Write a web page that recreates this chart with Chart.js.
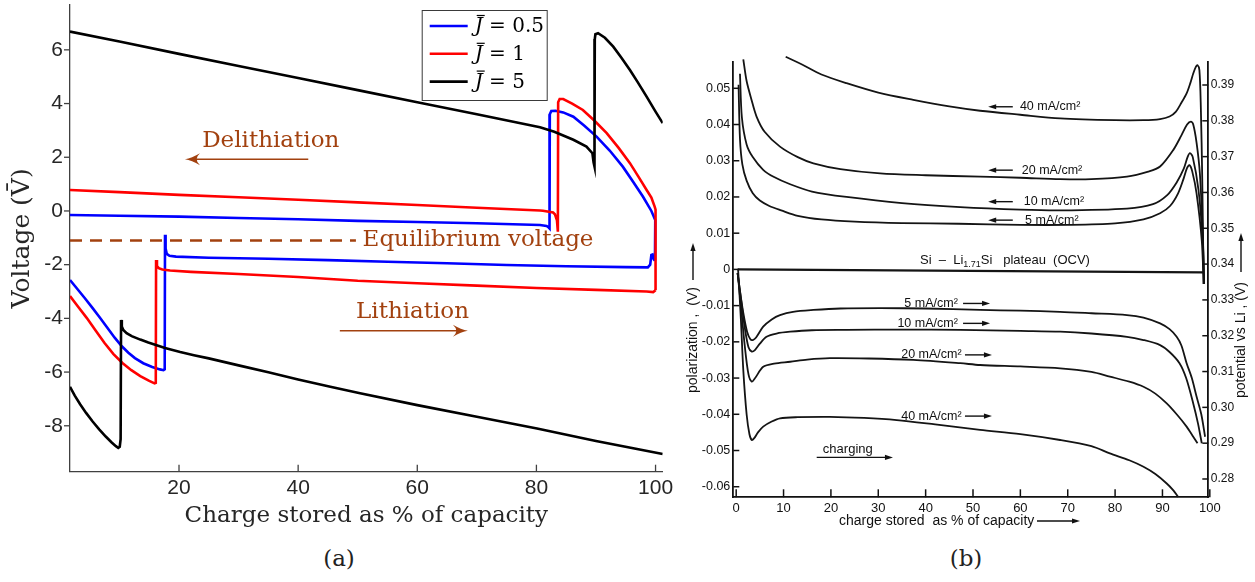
<!DOCTYPE html>
<html><head><meta charset="utf-8">
<script src="https://cdn.jsdelivr.net/npm/chart.js@4"></script>
<style>
html,body{margin:0;padding:0;background:#fff;width:1255px;height:582px;overflow:hidden}
#wa{position:absolute;left:0;top:0;width:680px;height:540px}
#wb{position:absolute;left:680px;top:0;width:575px;height:540px}
.cap{position:absolute;top:545px;font-family:"DejaVu Serif",serif;font-size:23px;color:#222;transform:translateX(-50%)}
</style></head><body>
<div id="wa"><canvas id="ca" width="680" height="540"></canvas></div>
<div id="wb"><canvas id="cb" width="575" height="540"></canvas></div>
<div class="cap" style="left:339px">(a)</div>
<div class="cap" style="left:966px">(b)</div>
<script>
// ---------------- Panel (a) data ----------------
const aXTicks = [20, 40, 60, 80, 100];
const aYTicks = [-8, -6, -4, -2, 0, 2, 4, 6];
const currents = ['0.5', '1', '5'];
const equilibriumVoltage = -1.1;
const equilibriumSpan = [1.7, 49.7];

const blueLith = [[1.7,-2.57],[2.8,-2.87],[4.2,-3.25],[5.5,-3.62],[6.7,-3.97],[8.0,-4.36],[9.2,-4.72],[10.4,-5.04],[11.5,-5.28],[12.6,-5.48],[14,-5.67],[15.5,-5.81],[16.8,-5.9],[17.4,-5.93],[17.6,-5.9],[17.65,-0.89],[17.75,-1.4],[17.95,-1.6],[18.4,-1.67],[19.5,-1.7],[25,-1.74],[35,-1.78],[45,-1.83],[55,-1.89],[65,-1.95],[75,-2.01],[85,-2.06],[95,-2.09],[98.7,-2.1],[99.1,-2.0],[99.3,-1.64],[99.5,-1.62],[99.7,-1.8],[99.9,-1.85]];
const blueDelith = [[99.9,-1.85],[99.95,-0.34],[99.3,0.0],[97.9,0.53],[96.2,1.1],[94.5,1.65],[92.3,2.25],[90.1,2.77],[88,3.18],[86.2,3.51],[84.5,3.67],[83.2,3.73],[82.5,3.72],[82.25,3.6],[82.2,-0.65],[82.0,-0.6],[81.7,-0.56],[80.6,-0.52],[70,-0.46],[60,-0.41],[50,-0.37],[40,-0.31],[30,-0.26],[20,-0.21],[10,-0.18],[1.7,-0.15]];
const redLith = [[1.7,-3.17],[3,-3.55],[4.5,-3.98],[6,-4.45],[7.5,-4.92],[9,-5.33],[10.5,-5.66],[12,-5.93],[13.5,-6.15],[15,-6.33],[15.9,-6.42],[16.1,-6.4],[16.15,-1.83],[16.3,-2.05],[16.6,-2.13],[17.2,-2.18],[18.5,-2.22],[22,-2.27],[30,-2.35],[40,-2.46],[50,-2.6],[60,-2.69],[70,-2.78],[80,-2.87],[90,-2.94],[98.5,-3.0],[99.6,-3.02],[100,-2.95]];
const redDelith = [[100,-2.95],[100,0.05],[99.85,0.16],[99.3,0.5],[98.5,0.78],[97.2,1.25],[95.7,1.78],[93.8,2.35],[91.8,2.9],[89.8,3.35],[87.8,3.76],[86,4.0],[84.5,4.17],[83.9,4.17],[83.65,4.05],[83.6,-0.77],[83.45,-0.35],[83.1,-0.12],[82.8,-0.06],[81.1,0.01],[80.6,0.02],[70,0.12],[60,0.22],[50,0.32],[40,0.42],[30,0.51],[20,0.6],[10,0.7],[1.7,0.78]];
const blackLith = [[1.7,-6.55],[2.5,-6.88],[3.4,-7.2],[4.4,-7.52],[5.5,-7.84],[6.6,-8.13],[7.7,-8.4],[8.7,-8.62],[9.4,-8.76],[9.8,-8.82],[10.05,-8.78],[10.2,-8.5],[10.27,-4.06],[10.4,-4.3],[10.65,-4.43],[11.2,-4.55],[12.06,-4.66],[13.5,-4.79],[14.85,-4.9],[17.65,-5.1],[20.2,-5.25],[22.5,-5.37],[25,-5.49],[30,-5.75],[35,-6.01],[40,-6.28],[45.4,-6.55],[50.4,-6.79],[60,-7.23],[70,-7.66],[80.1,-8.1],[90,-8.57],[101.2,-9.05]];
const blackDelith = [[101.2,3.27],[100,3.7],[98.5,4.26],[97,4.8],[95.7,5.25],[94.3,5.7],[92.9,6.12],[91.5,6.45],[90.35,6.62],[89.9,6.58],[89.8,6.4],[89.75,1.65],[89.6,1.8],[89.4,2.15],[88.4,2.4],[86.2,2.65],[83,2.95],[80.6,3.12],[70,3.6],[60,4.05],[50,4.5],[40,4.95],[30,5.4],[20,5.85],[10,6.31],[1.7,6.68]];

// ---------------- Panel (b) data ----------------
const bXTicks = [0,10,20,30,40,50,60,70,80,90,100];
const bYTicks = [-0.06,-0.05,-0.04,-0.03,-0.02,-0.01,0,0.01,0.02,0.03,0.04,0.05];
const bYTickLabels = ['-0.06','-0.05','-0.04','-0.03','-0.02','-0.01','0','0.01','0.02','0.03','0.04','0.05'];
const bY2Ticks = [0.28,0.29,0.30,0.31,0.32,0.33,0.34,0.35,0.36,0.37,0.38,0.39];
const bY2TickLabels = ['0.28','0.29','0.30','0.31','0.32','0.33','0.34','0.35','0.36','0.37','0.38','0.39'];
const densityLabels = ['5 mA/cm²','10 mA/cm²','20 mA/cm²','40 mA/cm²'];

const delith5 = [[0.5,0.051],[0.8,0.036],[1.3,0.029],[2.2,0.0245],[3.5,0.021],[5,0.019],[7,0.0175],[9.5,0.0163],[13,0.0148],[18,0.0138],[25,0.0132],[35,0.0128],[47,0.0126],[60,0.0123],[70,0.0123],[80,0.0127],[86,0.0138],[89.5,0.0155],[91.6,0.0175],[93.3,0.021],[94.5,0.0252],[95.2,0.028],[95.7,0.0288],[96.3,0.027],[97.2,0.021],[98.3,0.008],[98.7,-0.004]];
const delith10 = [[0.8,0.054],[1.2,0.042],[2.2,0.0345],[3.5,0.031],[5.7,0.0275],[8,0.0255],[11.4,0.0235],[16,0.0215],[23.3,0.02],[35,0.0183],[47.3,0.0172],[60,0.0165],[68.4,0.0163],[82.5,0.0168],[88,0.018],[91,0.0205],[93,0.024],[94.5,0.0278],[95.3,0.031],[95.8,0.0321],[96.4,0.031],[97.6,0.022],[98.5,0.008],[98.8,-0.004]];
const delith20 = [[1.5,0.058],[2.2,0.052],[3.2,0.047],[4.3,0.0422],[6,0.038],[9.25,0.0339],[13,0.031],[16.3,0.0293],[22,0.0277],[30.4,0.0265],[40,0.026],[51.5,0.0256],[60,0.0253],[68.4,0.0249],[75,0.0249],[82.5,0.0256],[87,0.027],[89.5,0.0284],[92.3,0.033],[94,0.037],[95.2,0.04],[96.0,0.0408],[96.5,0.04],[97.2,0.035],[97.9,0.0265],[98.5,0.01],[98.8,-0.004]];
const delith40 = [[10.45,0.0587],[14,0.0565],[18,0.0538],[23.3,0.0514],[30,0.0488],[37.4,0.0468],[45,0.045],[51.5,0.0438],[60,0.0427],[68.4,0.0417],[80,0.0412],[86,0.0412],[89.5,0.0415],[91.5,0.0422],[92.8,0.0435],[94,0.046],[95.1,0.0486],[95.9,0.0515],[96.5,0.0541],[97.0,0.0558],[97.4,0.0564],[97.8,0.055],[98.1,0.045],[98.4,0.025],[98.7,-0.004]];
const lith5 = [[0.3,-0.001],[0.8,-0.006],[1.5,-0.012],[2.3,-0.0172],[3.0,-0.0193],[3.5,-0.0195],[4.2,-0.0188],[5.7,-0.0158],[7.5,-0.0138],[9.25,-0.0126],[12,-0.0117],[16.3,-0.0112],[22,-0.0108],[30.4,-0.0107],[40,-0.0108],[51.5,-0.0112],[60,-0.0114],[68.4,-0.0117],[75,-0.0121],[82.5,-0.0126],[86,-0.0133],[89.5,-0.0149],[91.5,-0.0165],[93,-0.0186],[94,-0.021],[95.1,-0.0259],[96.2,-0.03],[97.2,-0.0351],[98.2,-0.04],[99.0,-0.0462]];
const lith10 = [[0.3,-0.001],[1.0,-0.008],[1.8,-0.016],[2.6,-0.0215],[3.3,-0.0227],[4.0,-0.0222],[5.0,-0.0205],[6.4,-0.0186],[8.5,-0.0177],[11.4,-0.0172],[16,-0.0168],[23.3,-0.0167],[35,-0.0166],[47.3,-0.0167],[60,-0.017],[68.4,-0.0172],[75,-0.0177],[82.5,-0.0186],[86,-0.0195],[89.5,-0.0209],[91.5,-0.0228],[93.6,-0.0259],[95,-0.03],[96.5,-0.037],[97.5,-0.0425],[98.3,-0.048]];
const lith20 = [[0.3,-0.001],[1.0,-0.01],[1.8,-0.021],[2.6,-0.029],[3.3,-0.031],[4.0,-0.03],[5.7,-0.0269],[8,-0.026],[11.4,-0.0255],[15,-0.0249],[19.8,-0.0245],[28,-0.0246],[37.4,-0.025],[47.3,-0.0259],[51.5,-0.0264],[60,-0.0268],[68.4,-0.0273],[75,-0.0283],[78.9,-0.0296],[83,-0.031],[86,-0.0324],[88.5,-0.0343],[90.9,-0.037],[93,-0.04],[95.1,-0.0434],[96.5,-0.0462],[97.4,-0.048]];
const lith40 = [[0.4,0.0],[1.0,-0.014],[1.5,-0.0278],[2.2,-0.04],[2.8,-0.0455],[3.3,-0.0471],[3.8,-0.0466],[4.6,-0.045],[5.7,-0.0434],[7.5,-0.042],[9.25,-0.0411],[13,-0.0408],[19.8,-0.0407],[27,-0.041],[33.9,-0.0416],[42,-0.0428],[51.5,-0.0443],[60,-0.0455],[68.4,-0.0471],[75,-0.0488],[78.9,-0.0508],[83,-0.0527],[86,-0.0545],[88.5,-0.0565],[90.9,-0.0591],[92.3,-0.061],[93.3,-0.0628]];
const ocvPlateau = [[0.3,0.0],[98.6,-0.0008]];

// ---------------- helpers ----------------
const pts = a => a.map(p => ({x: p[0], y: p[1]}));
const SERIF = '"DejaVu Serif", serif';
const SANS = '"Liberation Sans", Arial, sans-serif';
const BROWN = '#a2410f';
const noPad = s => { s.paddingTop = 0; s.paddingBottom = 0; s.paddingLeft = 0; s.paddingRight = 0; };

function head(ctx, x, y, d, L, w, curved) {
  ctx.beginPath();
  ctx.moveTo(x, y);
  if (curved) {
    ctx.quadraticCurveTo(x - d*L*0.45, y - w*0.2, x - d*L, y - w);
    ctx.quadraticCurveTo(x - d*L*0.55, y, x - d*L, y + w);
    ctx.quadraticCurveTo(x - d*L*0.45, y + w*0.2, x, y);
  } else {
    ctx.lineTo(x - d*L, y - w);
    ctx.lineTo(x - d*L, y + w);
    ctx.closePath();
  }
  ctx.fill();
}

const tickMarks = {
  id: 'tickMarks',
  afterDraw(chart, args, o) {
    const ctx = chart.ctx;
    ctx.save();
    ctx.lineWidth = o.width; ctx.strokeStyle = o.color;
    o.specs.forEach(sp => {
      const s = chart.scales[sp.id];
      s.ticks.forEach(t => {
        const p = s.getPixelForValue(t.value);
        ctx.beginPath();
        if (s.isHorizontal()) { ctx.moveTo(p, s.top); ctx.lineTo(p, s.top - sp.len); }
        else { const x0 = s.position === 'left' ? s.right : s.left; ctx.moveTo(x0, p); ctx.lineTo(x0 + sp.dir*sp.len, p); }
        ctx.stroke();
      });
    });
    ctx.restore();
  }
};

const annotate = {
  id: 'annotate',
  afterDatasetsDraw(chart, args, o) {
    const ctx = chart.ctx, xs = chart.scales.x, ys = chart.scales.y;
    const X = v => xs.getPixelForValue(v), Y = v => ys.getPixelForValue(v);
    ctx.save();
    o.texts.forEach(t => {
      ctx.font = t.font; ctx.fillStyle = t.color; ctx.textAlign = t.align; ctx.textBaseline = 'middle';
      ctx.fillText(t.text, X(t.x), Y(t.y));
    });
    o.arrows.forEach(a => {
      const x1 = X(a.from), x2 = X(a.to), y = Y(a.y), d = Math.sign(x2 - x1);
      ctx.strokeStyle = a.color; ctx.fillStyle = a.color; ctx.lineWidth = a.width;
      ctx.beginPath(); ctx.moveTo(x1, y); ctx.lineTo(x2 - d*a.L*0.5, y); ctx.stroke();
      head(ctx, x2, y, d, a.L, a.w, a.curved);
    });
    ctx.restore();
  }
};

const jLegend = {
  id: 'jLegend',
  afterDraw(chart, args, o) {
    const ctx = chart.ctx, ca = chart.chartArea;
    const bx = ca.left + o.dx, by = ca.top + o.dy;
    ctx.save();
    ctx.fillStyle = '#fff'; ctx.fillRect(bx, by, o.w, o.h);
    ctx.strokeStyle = '#3a3a3a'; ctx.lineWidth = 1; ctx.strokeRect(bx + 0.5, by + 0.5, o.w, o.h);
    const items = chart.data.datasets.filter(d => d.legendText !== undefined).sort((a, b) => a.legendIndex - b.legendIndex);
    items.forEach((d, i) => {
      const cy = by + o.first + i*o.step;
      ctx.strokeStyle = d.borderColor; ctx.lineWidth = 2.6;
      ctx.beginPath(); ctx.moveTo(bx + 8, cy); ctx.lineTo(bx + 46, cy); ctx.stroke();
      const tx = bx + 53;
      ctx.fillStyle = '#000'; ctx.textBaseline = 'middle'; ctx.textAlign = 'left';
      ctx.font = 'italic 20px ' + SERIF;
      ctx.fillText('J', tx, cy + 1);
      const jw = ctx.measureText('J').width;
      ctx.lineWidth = 1.2; ctx.strokeStyle = '#000';
      ctx.beginPath(); ctx.moveTo(tx + 2, cy - 10.5); ctx.lineTo(tx + jw + 2, cy - 10.5); ctx.stroke();
      ctx.font = '20px ' + SERIF;
      ctx.fillText(' = ' + d.legendText, tx + jw, cy + 1);
    });
    ctx.restore();
  }
};

// ---------------- Chart (a) ----------------
const lineDs = (data, color, order, extra) => Object.assign({
  data: pts(data), borderColor: color, backgroundColor: color, showLine: true,
  borderWidth: 2.6, pointRadius: 0, pointHoverRadius: 0, tension: 0, order: order
}, extra || {});

new Chart(document.getElementById('ca'), {
  type: 'scatter',
  data: { datasets: [
    lineDs(blackDelith, '#000000', 1, {legendText: currents[2], legendIndex: 2}),
    lineDs(blackLith, '#000000', 1),
    lineDs(redLith, '#ff0000', 2),
    lineDs(redDelith, '#ff0000', 2, {legendText: currents[1], legendIndex: 1}),
    lineDs(blueLith, '#0000ff', 3),
    lineDs(blueDelith, '#0000ff', 3, {legendText: currents[0], legendIndex: 0}),
    lineDs([[equilibriumSpan[0], equilibriumVoltage], [equilibriumSpan[1], equilibriumVoltage]], BROWN, 4, {borderDash: [12, 8], borderWidth: 2.4})
  ]},
  options: {
    responsive: false, animation: false, devicePixelRatio: 1, events: [],
    layout: { padding: { top: 5, right: 17.3, left: 0, bottom: 0 } },
    plugins: {
      legend: { display: false }, tooltip: { enabled: false },
      tickMarks: { width: 1.3, color: '#404040', specs: [{id: 'x', len: 7, dir: -1}, {id: 'y', len: 6, dir: -1}] },
      annotate: {
        texts: [
          {text: 'Delithiation', x: 35.4, y: 2.6, font: '23px ' + SERIF, color: BROWN, align: 'center'},
          {text: 'Equilibrium voltage', x: 70.2, y: -1.08, font: '23px ' + SERIF, color: BROWN, align: 'center'},
          {text: 'Lithiation', x: 59.2, y: -3.75, font: '23px ' + SERIF, color: BROWN, align: 'center'}
        ],
        arrows: [
          {from: 41.7, to: 21.0, y: 1.93, color: BROWN, width: 1.5, L: 15, w: 6, curved: true},
          {from: 47.0, to: 68.5, y: -4.46, color: BROWN, width: 1.5, L: 15, w: 6, curved: true}
        ]
      },
      jLegend: { dx: 351.7, dy: 5, w: 125, h: 90, first: 16, step: 27.8 }
    },
    scales: {
      x: {
        type: 'linear', position: 'bottom', min: 1.7, max: 101.2,
        grid: { display: false, drawTicks: false }, border: { display: true, color: '#404040', width: 1.3 },
        afterBuildTicks: s => { s.ticks = aXTicks.map(v => ({value: v})); },
        afterFit: s => { s.height = 68.3; noPad(s); },
        ticks: { autoSkip: false, maxRotation: 0, minRotation: 0, padding: 4, color: '#262626', font: {family: SANS, size: 21}, callback: (v, i) => String(aXTicks[i]) },
        title: { display: true, text: 'Charge stored as % of capacity', color: '#262626', font: {family: SERIF, size: 23}, padding: {top: 0, bottom: 10} }
      },
      y: {
        type: 'linear', position: 'left', min: -9.71, max: 7.67,
        grid: { display: false, drawTicks: false }, border: { display: true, color: '#404040', width: 1.3 },
        afterBuildTicks: s => { s.ticks = aYTicks.map(v => ({value: v})); },
        afterFit: s => { s.width = 70; noPad(s); },
        ticks: { autoSkip: false, padding: 7, color: '#262626', font: {family: SANS, size: 21}, callback: (v, i) => String(aYTicks[i]) },
        title: { display: true, text: 'Voltage (V\u0304)', color: '#262626', font: {family: SERIF, size: 25}, padding: {top: 7, bottom: 0} }
      }
    }
  },
  plugins: [tickMarks, annotate, jLegend]
});

// ---------------- Chart (b) ----------------
const bLine = (data, extra) => Object.assign({
  data: pts(data), borderColor: '#141414', showLine: true, borderWidth: 1.8,
  pointRadius: 0, pointHoverRadius: 0, tension: 0.3, clip: false
}, extra || {});

const bNotes = {
  id: 'bNotes',
  afterDatasetsDraw(chart, args, o) {
    const ctx = chart.ctx, xs = chart.scales.x, ys = chart.scales.y;
    const X = v => xs.getPixelForValue(v), Y = v => ys.getPixelForValue(v);
    ctx.save();
    ctx.fillStyle = '#111'; ctx.strokeStyle = '#111'; ctx.textBaseline = 'middle';
    const arrow = (x1, x2, y) => {
      const d = Math.sign(x2 - x1);
      ctx.lineWidth = 1.4; ctx.beginPath(); ctx.moveTo(x1, y); ctx.lineTo(x2 - d*4, y); ctx.stroke();
      head(ctx, x2, y, d, 8, 2.6, false);
    };
    ctx.font = '12.5px ' + SANS;
    o.delith.forEach((p, i) => {
      ctx.textAlign = 'left';
      ctx.fillText(densityLabels[i], X(p.tx), Y(p.y));
      arrow(X(p.a1), X(p.a2), Y(p.y));
    });
    o.lith.forEach((p, i) => {
      ctx.textAlign = 'right';
      ctx.fillText(densityLabels[i], X(p.tx), Y(p.y));
      arrow(X(p.a1), X(p.a2), Y(p.y));
    });
    ctx.textAlign = 'left'; ctx.font = '13px ' + SANS;
    ctx.fillText('charging', X(o.charging.tx), Y(o.charging.ty));
    arrow(X(o.charging.a1), X(o.charging.a2), Y(o.charging.ay));
    let x = X(o.ocv.tx); const y = Y(o.ocv.ty);
    ctx.font = '13px ' + SANS;
    ctx.fillText('Si  \u2013  Li', x, y); x += ctx.measureText('Si  \u2013  Li').width;
    ctx.font = '9px ' + SANS;
    ctx.fillText('1.71', x, y + 4); x += ctx.measureText('1.71').width;
    ctx.font = '13px ' + SANS;
    ctx.fillText('Si   plateau  (OCV)', x, y);
    ctx.restore();
  },
  afterDraw(chart, args, o) {
    const ctx = chart.ctx;
    ctx.save();
    ctx.fillStyle = '#111'; ctx.strokeStyle = '#111'; ctx.textBaseline = 'middle'; ctx.textAlign = 'left';
    ctx.font = '14px ' + SANS;
    const arrowH = (x1, x2, y) => {
      const d = Math.sign(x2 - x1);
      ctx.lineWidth = 1.4; ctx.beginPath(); ctx.moveTo(x1, y); ctx.lineTo(x2 - d*4, y); ctx.stroke();
      head(ctx, x2, y, d, 8, 2.6, false);
    };
    ctx.fillText(o.xTitle.text, o.xTitle.x, o.xTitle.y);
    arrowH(o.xTitle.a1, o.xTitle.a2, o.xTitle.y);
    [o.leftTitle, o.rightTitle].forEach(t => {
      ctx.save(); ctx.translate(t.x, 0); ctx.rotate(-Math.PI/2);
      ctx.fillText(t.text, -t.start, 0);
      arrowH(-t.a1, -t.a2, 0);
      ctx.restore();
    });
    ctx.restore();
  }
};

new Chart(document.getElementById('cb'), {
  type: 'scatter',
  data: { datasets: [
    bLine(ocvPlateau, {borderWidth: 2.2, tension: 0}),
    bLine(delith5), bLine(delith10), bLine(delith20), bLine(delith40),
    bLine(lith5), bLine(lith10), bLine(lith20), bLine(lith40)
  ]},
  options: {
    responsive: false, animation: false, devicePixelRatio: 1, events: [],
    layout: { padding: { top: 62, right: 0, left: 0, bottom: 0 } },
    plugins: {
      legend: { display: false }, tooltip: { enabled: false },
      tickMarks: { width: 1.5, color: '#111', specs: [{id: 'x', len: 8, dir: -1}, {id: 'y', len: 6, dir: 1}, {id: 'y2', len: 6, dir: -1}] },
      bNotes: {
        delith: [
          {y: 0.0136, tx: 61.0, a1: 58.4, a2: 53.2},
          {y: 0.0187, tx: 60.7, a1: 58.4, a2: 53.2},
          {y: 0.0274, tx: 60.3, a1: 58.4, a2: 53.2},
          {y: 0.0449, tx: 59.9, a1: 58.4, a2: 53.2}
        ],
        lith: [
          {y: -0.0094, tx: 46.8, a1: 47.9, a2: 53.6},
          {y: -0.0149, tx: 46.8, a1: 47.9, a2: 53.6},
          {y: -0.0236, tx: 47.6, a1: 48.3, a2: 54.0},
          {y: -0.0405, tx: 47.6, a1: 48.3, a2: 54.0}
        ],
        charging: {tx: 18.3, ty: -0.0497, a1: 17.0, a2: 33.1, ay: -0.0519},
        ocv: {tx: 38.8, ty: 0.0024},
        xTitle: {text: 'charge stored  as % of capacity', x: 159, y: 521, a1: 357, a2: 400},
        leftTitle: {text: 'polarization ,  (V)', x: 13, start: 393, a1: 280, a2: 243},
        rightTitle: {text: 'potential vs Li , (V)', x: 561, start: 398, a1: 272, a2: 233}
      }
    },
    scales: {
      x: {
        type: 'linear', position: 'bottom', min: -0.61, max: 99.68,
        grid: { display: false, drawTicks: false }, border: { display: true, color: '#111', width: 1.8 },
        afterBuildTicks: s => { s.ticks = bXTicks.map(v => ({value: v})); },
        afterFit: s => { s.height = 42.7; noPad(s); },
        ticks: { autoSkip: false, maxRotation: 0, minRotation: 0, padding: 3, color: '#111', font: {family: SANS, size: 13}, callback: (v, i) => String(bXTicks[i]) }
      },
      y: {
        type: 'linear', position: 'left', min: -0.06292, max: 0.05726,
        grid: { display: false, drawTicks: false }, border: { display: true, color: '#111', width: 1.8 },
        afterBuildTicks: s => { s.ticks = bYTicks.map(v => ({value: v})); },
        afterFit: s => { s.width = 53.3; noPad(s); },
        ticks: { autoSkip: false, padding: 3, color: '#111', font: {family: SANS, size: 12.5}, callback: (v, i) => bYTickLabels[i] }
      },
      y2: {
        type: 'linear', position: 'right', min: 0.27489, max: 0.39642,
        grid: { display: false, drawTicks: false }, border: { display: true, color: '#111', width: 1.8 },
        afterBuildTicks: s => { s.ticks = bY2Ticks.map(v => ({value: v})); },
        afterFit: s => { s.width = 46.7; noPad(s); },
        ticks: { autoSkip: false, padding: 2.5, color: '#111', font: {family: SANS, size: 12}, callback: (v, i) => bY2TickLabels[i] }
      }
    }
  },
  plugins: [tickMarks, bNotes]
});
</script>
</body></html>
